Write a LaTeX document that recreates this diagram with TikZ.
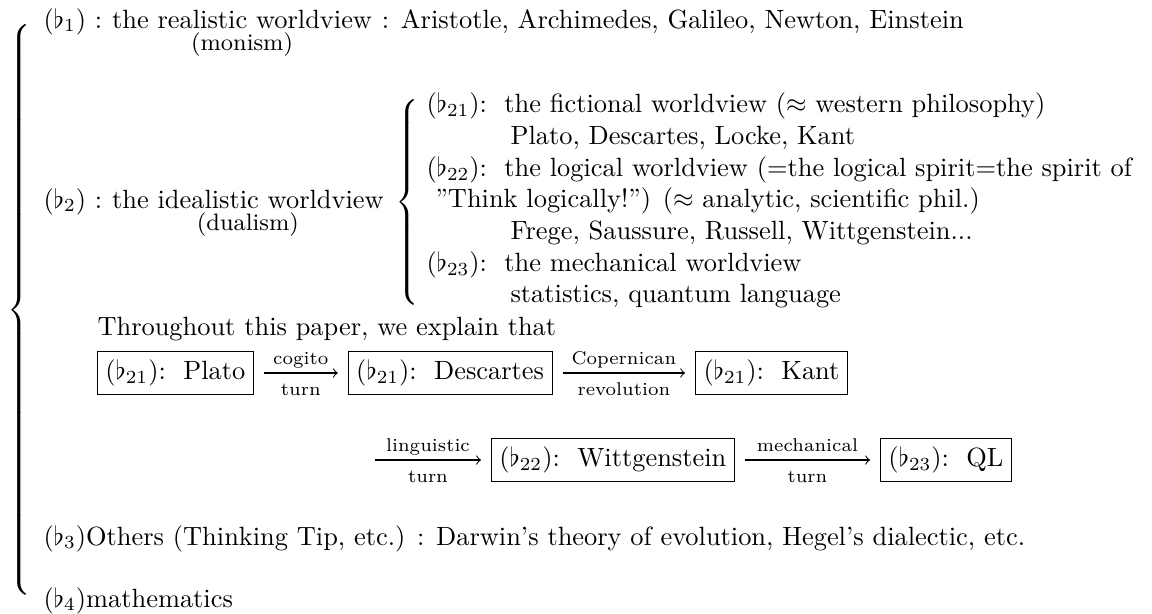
\documentclass[tikz,border=0pt]{standalone}
\usepackage{amsmath}
\usepackage{amssymb}
\usetikzlibrary{positioning}

\newcommand{\bigbrace}[1]{$\delimitershortfall=0pt\left\{\vcenter{\hbox{\vrule height #1 depth #1 width 0pt}}\right.$}
\newcommand{\tagsep}{\hspace{6.6pt}}

\tikzset{
  row/.style={anchor=base west, inner sep=0pt},
  undertxt/.style={anchor=base, inner sep=0pt, font=\small},
  fbx/.style={draw, line width=0.4pt, inner sep=3pt, anchor=west},
  turnarrow/.style={->, line width=0.4pt, shorten <=3.8pt, shorten >=3.8pt},
  overlbl/.style={anchor=base, inner sep=0pt, font=\scriptsize, yshift=3.2pt},
  underlbl/.style={anchor=base, inner sep=0pt, font=\scriptsize, yshift=-8.6pt},
  bracenode/.style={anchor=west, inner sep=0pt}
}

\begin{document}
\begin{tikzpicture}[x=0.3788pt, y=-0.3788pt]
  \useasboundingbox (0,0) rectangle (1152,613);
  %% outer brace
  \node[bracenode] (outerbrace) at (7,310) {\bigbrace{106pt}};
  %% (b1) realistic worldview
  \node[row] (b1tag) at (43,28) {$(\flat_1)$ :};
  \node[row, right=3.33pt of b1tag.base east, anchor=base west] (b1view) {the realistic worldview};
  \node[row, right=3.33pt of b1view.base east, anchor=base west] (b1names) {: Aristotle, Archimedes, Galileo, Newton, Einstein};
  \node[undertxt] (monism) at ([yshift=-8.4pt]b1view.base) {(monism)};
  %% (b2) idealistic worldview
  \node[row] (b2tag) at (43,208) {$(\flat_2)$ :};
  \node[row, right=3.33pt of b2tag.base east, anchor=base west] (b2view) {the idealistic worldview};
  \node[undertxt] (dualism) at ([yshift=-8.4pt]b2view.base) {(dualism)};
  \node[bracenode] (innerbrace) at (395,202) {\bigbrace{38pt}};
  %% inner rows
  \node[row] (b21) at (426,112.7) {$(\flat_{21})$:\tagsep the fictional worldview ($\approx$ western philosophy)};
  \node[row] (b21names) at (510,144.4) {Plato, Descartes, Locke, Kant};
  \node[row] (b22) at (426,176.1) {$(\flat_{22})$:\tagsep the logical worldview (=the logical spirit=the spirit of};
  \node[row] (b22cont) at (435,207.8) {”Think logically!”) ($\approx$ analytic, scientific phil.)};
  \node[row] (b22names) at (510,239.5) {Frege, Saussure, Russell, Wittgenstein...};
  \node[row] (b23) at (426,271.2) {$(\flat_{23})$:\tagsep the mechanical worldview};
  \node[row] (b23names) at (510,302.9) {statistics, quantum language};
  %% turns
  \node[row] (thru) at (97,335) {Throughout this paper, we explain that};
  \node[fbx] (plato) at (97,373) {$(\flat_{21})$:\tagsep Plato};
  \node[fbx, right=35.6pt of plato] (descartes) {$(\flat_{21})$:\tagsep Descartes};
  \node[fbx, right=54pt of descartes] (kant) {$(\flat_{21})$:\tagsep Kant};
  \draw[turnarrow] (plato) -- node[overlbl] {cogito} node[underlbl] {turn} (descartes);
  \draw[turnarrow] (descartes) -- node[overlbl] {Copernican} node[underlbl] {revolution} (kant);
  \coordinate (lingstart) at (365,460);
  \node[fbx] (witt) at (491,460) {$(\flat_{22})$:\tagsep Wittgenstein};
  \node[fbx, right=55pt of witt] (ql) {$(\flat_{23})$:\tagsep QL};
  \draw[turnarrow] (lingstart) -- node[overlbl] {linguistic} node[underlbl] {turn} (witt);
  \draw[turnarrow] (witt) -- node[overlbl] {mechanical} node[underlbl] {turn} (ql);
  %% (b3), (b4)
  \node[row] (b3) at (43,545) {$(\flat_3)$Others (Thinking Tip, etc.) : Darwin’s theory of evolution, Hegel’s dialectic, etc.};
  \node[row] (b4) at (43,607) {$(\flat_4)$mathematics};
\end{tikzpicture}
\end{document}
